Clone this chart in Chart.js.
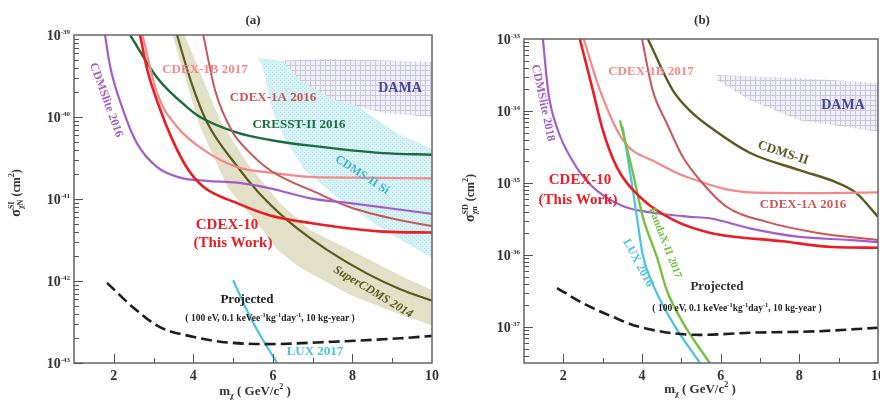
<!DOCTYPE html>
<html>
<head>
<meta charset="utf-8">
<script src="https://cdn.jsdelivr.net/npm/chart.js@4.4.1/dist/chart.umd.min.js"></script>
<style>
  body { margin: 0; background: #fff; }
  #wrap { position: relative; width: 880px; height: 406px; }
  canvas { position: absolute; top: 0; }
</style>
</head>
<body>
<div id="wrap">
  <canvas id="chartA" width="440" height="406" style="left:0"></canvas>
  <canvas id="chartB" width="440" height="406" style="left:440px"></canvas>
</div>
<script>
// ---------- panel (a): spin-independent ----------
const mA_cdmslite = [1.78, 1.91, 2.23, 2.58, 3.09, 3.67, 4.35, 5.10, 5.93, 6.94, 7.94, 10];
const sA_cdmslite = [1.0e-39, 4.1e-40, 1.23e-40, 4.8e-41, 2.45e-41, 1.82e-41, 1.66e-41, 1.58e-41, 1.35e-41, 1.02e-41, 8.9e-42, 6.6e-42];

const mA_cdex10 = [2.66, 2.84, 3.16, 3.45, 3.84, 4.25, 5.10, 5.93, 6.94, 8.77, 10];
const sA_cdex10 = [1.0e-39, 3.8e-40, 1.26e-40, 5.6e-41, 2.4e-41, 1.41e-41, 8.9e-42, 6.3e-42, 5.1e-42, 4.0e-42, 3.9e-42];

const mA_cdex1b = [2.72, 3.09, 3.59, 4.25, 5.10, 5.93, 6.94, 7.94, 10];
const sA_cdex1b = [1.0e-39, 1.95e-40, 7.6e-41, 4.0e-41, 2.45e-41, 2.1e-41, 1.86e-41, 1.82e-41, 1.78e-41];

const mA_cdex1a = [4.25, 4.55, 4.97, 5.35, 5.93, 6.51, 6.94, 7.94, 9.20, 10];
const sA_cdex1a = [1.0e-39, 2.09e-40, 6.76e-41, 3.98e-41, 2.24e-41, 1.58e-41, 1.29e-41, 7.94e-42, 5.5e-42, 4.68e-42];

const mA_cresst = [2.41, 3.09, 3.84, 4.17, 5.10, 5.93, 6.94, 8.77, 10];
const sA_cresst = [1.0e-39, 3.02e-40, 1.32e-40, 1.0e-40, 6.46e-41, 5.25e-41, 4.47e-41, 3.63e-41, 3.47e-41];

const mA_supercdms = [3.59, 3.95, 4.35, 5.10, 5.60, 6.11, 6.61, 7.36, 8.37, 9.20, 10];
const sA_supercdms = [1.0e-39, 2.63e-40, 8.5e-41, 2.51e-41, 1.26e-41, 7.08e-42, 4.37e-42, 2.4e-42, 1.23e-42, 7.94e-43, 5.75e-43];

// expected-sensitivity band of SuperCDMS (upper edge, then lower edge back)
const mA_scdmsBand = [3.78, 4.67, 5.35, 6.18, 6.94, 7.94, 9.20, 10, 10, 9.20, 7.94, 6.69, 6.11, 5.75, 4.85, 4.17, 3.47];
const sA_scdmsBand = [1.0e-39, 9.1e-41, 2.75e-41, 8.9e-42, 4.17e-42, 2.4e-42, 1.17e-42, 7.76e-43,
                      2.88e-43, 3.89e-43, 6.76e-43, 1.45e-42, 2.4e-42, 4.17e-42, 1.41e-41, 7.59e-41, 1.0e-39];

const mA_cdmsSi = [5.63, 6.43, 7.44, 8.45, 9.20, 10, 10, 8.70, 7.69, 6.81, 6.31, 5.98, 5.73];
const sA_cdmsSi = [5.25e-40, 4.68e-40, 2.45e-40, 1.05e-40, 6.03e-41, 4.17e-41,
                   1.91e-42, 4.47e-42, 9.77e-42, 2.24e-41, 5.25e-41, 1.23e-40, 4.27e-40];

const mA_dama = [6.26, 7.50, 10, 10, 8.77, 7.52, 6.69, 6.26];
const sA_dama = [4.9e-40, 5.13e-40, 4.68e-40, 1.0e-40, 1.12e-40, 1.62e-40, 2.82e-40, 4.68e-40];

const mA_lux = [5.0, 5.43, 5.75, 6.11];
const sA_lux = [1.02e-42, 3.63e-43, 1.91e-43, 1.0e-43];

const mA_proj = [1.83, 2.48, 3.16, 3.99, 4.67, 5.86, 7.52, 9.20, 10];
const sA_proj = [9.5e-43, 4.8e-43, 2.74e-43, 2.09e-43, 1.82e-43, 1.70e-43, 1.82e-43, 2.0e-43, 2.14e-43];

// ---------- panel (b): spin-dependent ----------
const mB_cdmslite = [1.48, 1.62, 1.85, 2.24, 2.68, 3.51, 4.38, 5.21, 5.72, 6.74, 8.0, 9.27, 10];
const sB_cdmslite = [1.0e-33, 1.78e-34, 5.62e-35, 2.0e-35, 9.55e-36, 4.79e-36, 3.8e-36, 3.39e-36, 3.24e-36, 2.34e-36, 1.78e-36, 1.62e-36, 1.51e-36];

const mB_cdex10 = [2.42, 2.75, 3.0, 3.36, 3.94, 4.78, 5.72, 7.57, 8.84, 10];
const sB_cdex10 = [1.0e-33, 1.95e-34, 5.5e-35, 1.66e-35, 6.46e-36, 3.09e-36, 2.04e-36, 1.55e-36, 1.29e-36, 1.26e-36];

const mB_cdex1b = [2.52, 2.93, 3.51, 4.38, 5.21, 6.74, 8.44, 10];
const sB_cdex1b = [1.0e-33, 1.95e-34, 3.98e-35, 1.91e-35, 1.17e-35, 7.4e-36, 7.24e-36, 7.4e-36];

const mB_cdex1a = [4.0, 4.27, 4.63, 5.04, 5.47, 6.15, 7.17, 8.44, 10];
const sB_cdex1a = [1.0e-33, 1.95e-34, 6.76e-35, 2.29e-35, 1.1e-35, 4.68e-36, 2.88e-36, 2.04e-36, 1.62e-36];

const mB_cdms2 = [4.15, 4.78, 5.21, 5.72, 6.74, 8.0, 8.94, 9.45, 10];
const sB_cdms2 = [1.0e-33, 1.95e-34, 1.02e-34, 6.03e-35, 2.63e-35, 1.51e-35, 1.02e-35, 7.24e-36, 3.39e-36];

const mB_pandax = [3.44, 3.77, 4.02, 4.38, 4.63, 5.04, 5.72];
const sB_pandax = [7.41e-35, 1.38e-35, 3.39e-36, 9.33e-37, 3.24e-37, 1.15e-37, 3.16e-38];

const mB_lux = [3.51, 3.74, 3.87, 4.02, 4.32, 4.78, 5.47];
const sB_lux = [6.03e-35, 1.0e-35, 3.39e-36, 1.0e-36, 3.47e-37, 1.15e-37, 3.16e-38];

const mB_dama = [5.90, 8.0, 10, 10, 8.0, 6.74, 5.90];
const sB_dama = [3.16e-34, 2.88e-34, 2.45e-34, 5.13e-35, 7.41e-35, 1.41e-34, 2.69e-34];

const mB_proj = [1.84, 2.50, 3.26, 3.94, 5.47, 6.74, 8.44, 10];
const sB_proj = [3.47e-37, 2.14e-37, 1.38e-37, 1.0e-37, 7.76e-38, 8.32e-38, 8.71e-38, 9.77e-38];

const xTicks = [2, 4, 6, 8, 10];

// ---------- colours ----------
const C = {
    purple: '#a35ec6',
    red: '#ea1c24',
    pink: '#f28a8a',
    brown: '#c95757',
    green: '#1c6b3a',
    olive: '#5b5a20',
    band: '#e2e0c6',
    lux: '#4cc3de',
    pandax: '#76c043',
    dama: '#4646a0',
    cyanText: '#3cb6c8'
};

function pts(ms, ss) {
    return ms.map((m, i) => ({ x: m, y: ss[i] }));
}

function curve(ms, ss, color, width, extra) {
    return Object.assign({
        data: pts(ms, ss),
        borderColor: color,
        borderWidth: width,
        pointRadius: 0,
        showLine: true,
        fill: false,
        cubicInterpolationMode: 'monotone'
    }, extra || {});
}

function region(ms, ss, bg) {
    return {
        data: pts(ms, ss),
        borderWidth: 0,
        borderColor: 'rgba(0,0,0,0)',
        backgroundColor: bg,
        pointRadius: 0,
        showLine: true,
        fill: 'shape',
        tension: 0
    };
}

function gridPattern() {
    const c = document.createElement('canvas');
    c.width = 5; c.height = 5;
    const g = c.getContext('2d');
    g.fillStyle = '#f0eff6'; g.fillRect(0, 0, 5, 5);
    g.fillStyle = '#c9c8df'; g.fillRect(0, 0, 5, 1); g.fillRect(0, 0, 1, 5);
    return g.createPattern(c, 'repeat');
}

function dotPattern() {
    const c = document.createElement('canvas');
    c.width = 4; c.height = 4;
    const g = c.getContext('2d');
    g.fillStyle = '#d7f2f5'; g.fillRect(0, 0, 4, 4);
    g.fillStyle = '#b3e3ea'; g.fillRect(0, 0, 1, 1); g.fillRect(2, 2, 1, 1);
    return g.createPattern(c, 'repeat');
}

function font(size, italic) {
    return (italic ? 'italic ' : '') + 'bold ' + size + 'px "Liberation Serif", "DejaVu Serif", serif';
}

// text with super/subscripts, centred on x, baseline y
function drawRich(ctx, parts, x, y, color) {
    const widths = parts.map(p => {
        ctx.font = font(p.s);
        if (p.stack) return Math.max(ctx.measureText(p.sup).width, ctx.measureText(p.sub).width);
        return ctx.measureText(p.t).width;
    });
    const total = widths.reduce((a, b) => a + b, 0);
    let cx = x - total / 2;
    ctx.fillStyle = color;
    ctx.textAlign = 'left';
    ctx.textBaseline = 'alphabetic';
    parts.forEach((p, i) => {
        ctx.font = font(p.s);
        if (p.stack) {
            ctx.fillText(p.sup, cx, y - 6);
            ctx.fillText(p.sub, cx, y + 3);
        } else {
            ctx.fillText(p.t, cx, y + (p.r || 0));
        }
        cx += widths[i];
    });
}

const projNote = [
    { t: '( 100 eV, 0.1 keVee', s: 9.5 }, { t: '-1', s: 6.5, r: -4 },
    { t: 'kg', s: 9.5 }, { t: '-1', s: 6.5, r: -4 },
    { t: 'day', s: 9.5 }, { t: '-1', s: 6.5, r: -4 },
    { t: ', 10 kg-year )', s: 9.5 }
];
const xTitle = [
    { t: 'm', s: 13 }, { t: 'χ', s: 8, r: 3 }, { t: ' ( GeV/c', s: 13 }, { t: '2', s: 8, r: -6 }, { t: ' )', s: 13 }
];

function decorPlugin(cfg) {
    return {
        id: 'decor',
        afterDatasetsDraw(chart) {
            const ctx = chart.ctx;
            const a = chart.chartArea;
            const xs = chart.scales.x;
            const ys = chart.scales.y;
            ctx.save();

            // frame
            ctx.strokeStyle = '#666';
            ctx.lineWidth = 1.5;
            ctx.strokeRect(a.left, a.top, a.right - a.left, a.bottom - a.top);

            // y ticks (log)
            ctx.strokeStyle = '#555';
            ctx.lineWidth = 1;
            for (let e = cfg.expLow; e < cfg.expHigh; e++) {
                for (let k = 1; k <= 9; k++) {
                    const v = k * Math.pow(10, e);
                    if (v < ys.min * 0.999 || v > ys.max * 1.001) continue;
                    const py = Math.round(ys.getPixelForValue(v)) + 0.5;
                    const len = k === 1 ? 9 : 5;
                    ctx.beginPath(); ctx.moveTo(a.left, py); ctx.lineTo(a.left + len, py); ctx.stroke();
                }
            }
            // x ticks
            for (let m = 2; m <= 9; m++) {
                const px = Math.round(xs.getPixelForValue(m)) + 0.5;
                const len = m % 2 === 0 ? 9 : 5;
                ctx.beginPath(); ctx.moveTo(px, a.bottom); ctx.lineTo(px, a.bottom - len); ctx.stroke();
            }

            // y tick labels 10^n
            ctx.fillStyle = '#333';
            ctx.textBaseline = 'alphabetic';
            cfg.yLabels.forEach(e => {
                const py = ys.getPixelForValue(Math.pow(10, e));
                ctx.font = font(7);
                const ex = String(e);
                const ew = ctx.measureText(ex).width;
                ctx.textAlign = 'right';
                ctx.fillText(ex, a.left - 4, py - 1);
                ctx.font = font(14);
                ctx.fillText('10', a.left - 4 - ew, py + 5);
            });

            // x tick labels
            ctx.font = font(14);
            ctx.textAlign = 'center';
            xTicks.forEach(m => {
                ctx.fillText(String(m), xs.getPixelForValue(m), a.bottom + 17);
            });

            // axis titles
            drawRich(ctx, xTitle, cfg.xTitle[0], cfg.xTitle[1], '#333');
            ctx.save();
            ctx.translate(cfg.yTitle[0], cfg.yTitle[1]);
            ctx.rotate(-Math.PI / 2);
            drawRich(ctx, [
                { t: 'σ', s: 14 }, { stack: true, sup: cfg.yTag, sub: cfg.ySub, s: 8 },
                { t: ' (cm', s: 12 }, { t: '2', s: 8, r: -6 }, { t: ')', s: 12 }
            ], 0, 4, '#333');
            ctx.restore();

            // panel title
            ctx.fillStyle = '#333';
            ctx.font = font(13);
            ctx.textAlign = 'center';
            ctx.fillText(cfg.title, cfg.titlePos[0], cfg.titlePos[1]);

            // curve labels
            cfg.labels.forEach(l => {
                ctx.save();
                ctx.translate(l.x, l.y);
                if (l.rot) ctx.rotate(l.rot * Math.PI / 180);
                ctx.font = font(l.size || 13, l.italic);
                ctx.fillStyle = l.color;
                ctx.textAlign = 'center';
                ctx.textBaseline = 'middle';
                ctx.fillText(l.t, 0, 0);
                ctx.restore();
            });

            drawRich(ctx, projNote, cfg.note[0], cfg.note[1], '#222');
            ctx.restore();
        }
    };
}

function makeChart(id, datasets, yMin, yMax, pad, yWidth, cfg) {
    return new Chart(document.getElementById(id).getContext('2d'), {
        type: 'scatter',
        data: { datasets: datasets },
        options: {
            responsive: false,
            animation: false,
            events: [],
            layout: { padding: pad },
            plugins: { legend: { display: false }, tooltip: { enabled: false } },
            scales: {
                x: {
                    type: 'linear', min: 1, max: 10,
                    ticks: { display: false },
                    grid: { display: false },
                    border: { display: false },
                    afterFit: s => { s.height = 43; }
                },
                y: {
                    type: 'logarithmic', min: yMin, max: yMax,
                    ticks: { display: false },
                    grid: { display: false },
                    border: { display: false },
                    afterFit: s => { s.width = yWidth; }
                }
            }
        },
        plugins: [decorPlugin(cfg)]
    });
}

// dataset 0 is drawn last (on top), so regions go at the end
const dsA = [
    curve(mA_cdex10, sA_cdex10, C.red, 2.6),
    curve(mA_proj, sA_proj, '#1e1e1e', 2.6, { borderDash: [11, 5] }),
    curve(mA_lux, sA_lux, C.lux, 2.2),
    curve(mA_cdmslite, sA_cdmslite, C.purple, 2.2),
    curve(mA_cdex1a, sA_cdex1a, C.brown, 2),
    curve(mA_cdex1b, sA_cdex1b, C.pink, 2.2),
    curve(mA_cresst, sA_cresst, C.green, 2.4),
    curve(mA_supercdms, sA_supercdms, C.olive, 2.2),
    region(mA_dama, sA_dama, gridPattern()),
    region(mA_scdmsBand, sA_scdmsBand, C.band),
    region(mA_cdmsSi, sA_cdmsSi, dotPattern())
];

const dsB = [
    curve(mB_cdex10, sB_cdex10, C.red, 2.6),
    curve(mB_proj, sB_proj, '#1e1e1e', 2.6, { borderDash: [11, 5] }),
    curve(mB_pandax, sB_pandax, C.pandax, 2.4),
    curve(mB_lux, sB_lux, C.lux, 2.2),
    curve(mB_cdmslite, sB_cdmslite, C.purple, 2.2),
    curve(mB_cdex1a, sB_cdex1a, C.brown, 2),
    curve(mB_cdex1b, sB_cdex1b, C.pink, 2.2),
    curve(mB_cdms2, sB_cdms2, C.olive, 2.4),
    region(mB_dama, sB_dama, gridPattern())
];

makeChart('chartA', dsA, 1e-43, 1e-39, { top: 35, right: 8, left: 0, bottom: 0 }, 74, {
    expLow: -43, expHigh: -39,
    yLabels: [-43, -42, -41, -40, -39],
    yTag: 'SI', ySub: 'χN',
    yTitle: [16, 193],
    xTitle: [255, 395],
    title: '(a)', titlePos: [253, 24],
    note: [270, 321],
    labels: [
        { t: 'CDMSlite 2016', x: 106, y: 100, rot: 70, color: C.purple, size: 12 },
        { t: 'CDEX-1B 2017', x: 205, y: 70, color: C.pink, size: 13 },
        { t: 'CDEX-1A 2016', x: 273, y: 98, color: C.brown, size: 13 },
        { t: 'CRESST-II 2016', x: 299, y: 125, color: C.green, size: 13 },
        { t: 'CDMS-II Si', x: 362, y: 175, rot: 33, color: C.cyanText, size: 12 },
        { t: 'DAMA', x: 400, y: 88, color: C.dama, size: 14 },
        { t: 'CDEX-10', x: 227, y: 225, color: C.red, size: 15 },
        { t: '(This Work)', x: 233, y: 243, color: C.red, size: 15 },
        { t: 'SuperCDMS 2014', x: 373, y: 292, rot: 31, color: C.olive, size: 12, italic: true },
        { t: 'Projected', x: 247, y: 300, color: '#222', size: 13 },
        { t: 'LUX 2017', x: 315, y: 352, color: C.lux, size: 13 }
    ]
});

makeChart('chartB', dsB, 3.16e-38, 1e-33, { top: 39, right: 2, left: 0, bottom: 0 }, 84, {
    expLow: -38, expHigh: -33,
    yLabels: [-37, -36, -35, -34, -33],
    yTag: 'SD', ySub: 'χn',
    yTitle: [30, 198],
    xTitle: [260, 393],
    title: '(b)', titlePos: [262, 24],
    note: [297, 311],
    labels: [
        { t: 'CDMSlite 2018', x: 103, y: 103, rot: 78, color: C.purple, size: 12 },
        { t: 'CDEX-1B 2017', x: 211, y: 72, color: C.pink, size: 13 },
        { t: 'CDMS-II', x: 343, y: 153, rot: 18, color: C.olive, size: 13 },
        { t: 'DAMA', x: 403, y: 105, color: C.dama, size: 14 },
        { t: 'CDEX-1A 2016', x: 363, y: 205, color: C.brown, size: 13 },
        { t: 'CDEX-10', x: 140, y: 180, color: C.red, size: 15 },
        { t: '(This Work)', x: 138, y: 200, color: C.red, size: 15 },
        { t: 'PandaX-II 2017', x: 225, y: 243, rot: 69, color: C.pandax, size: 11 },
        { t: 'LUX 2016', x: 198, y: 263, rot: 62, color: C.lux, size: 12 },
        { t: 'Projected', x: 277, y: 287, color: '#333', size: 13 }
    ]
});
</script>
</body>
</html>
